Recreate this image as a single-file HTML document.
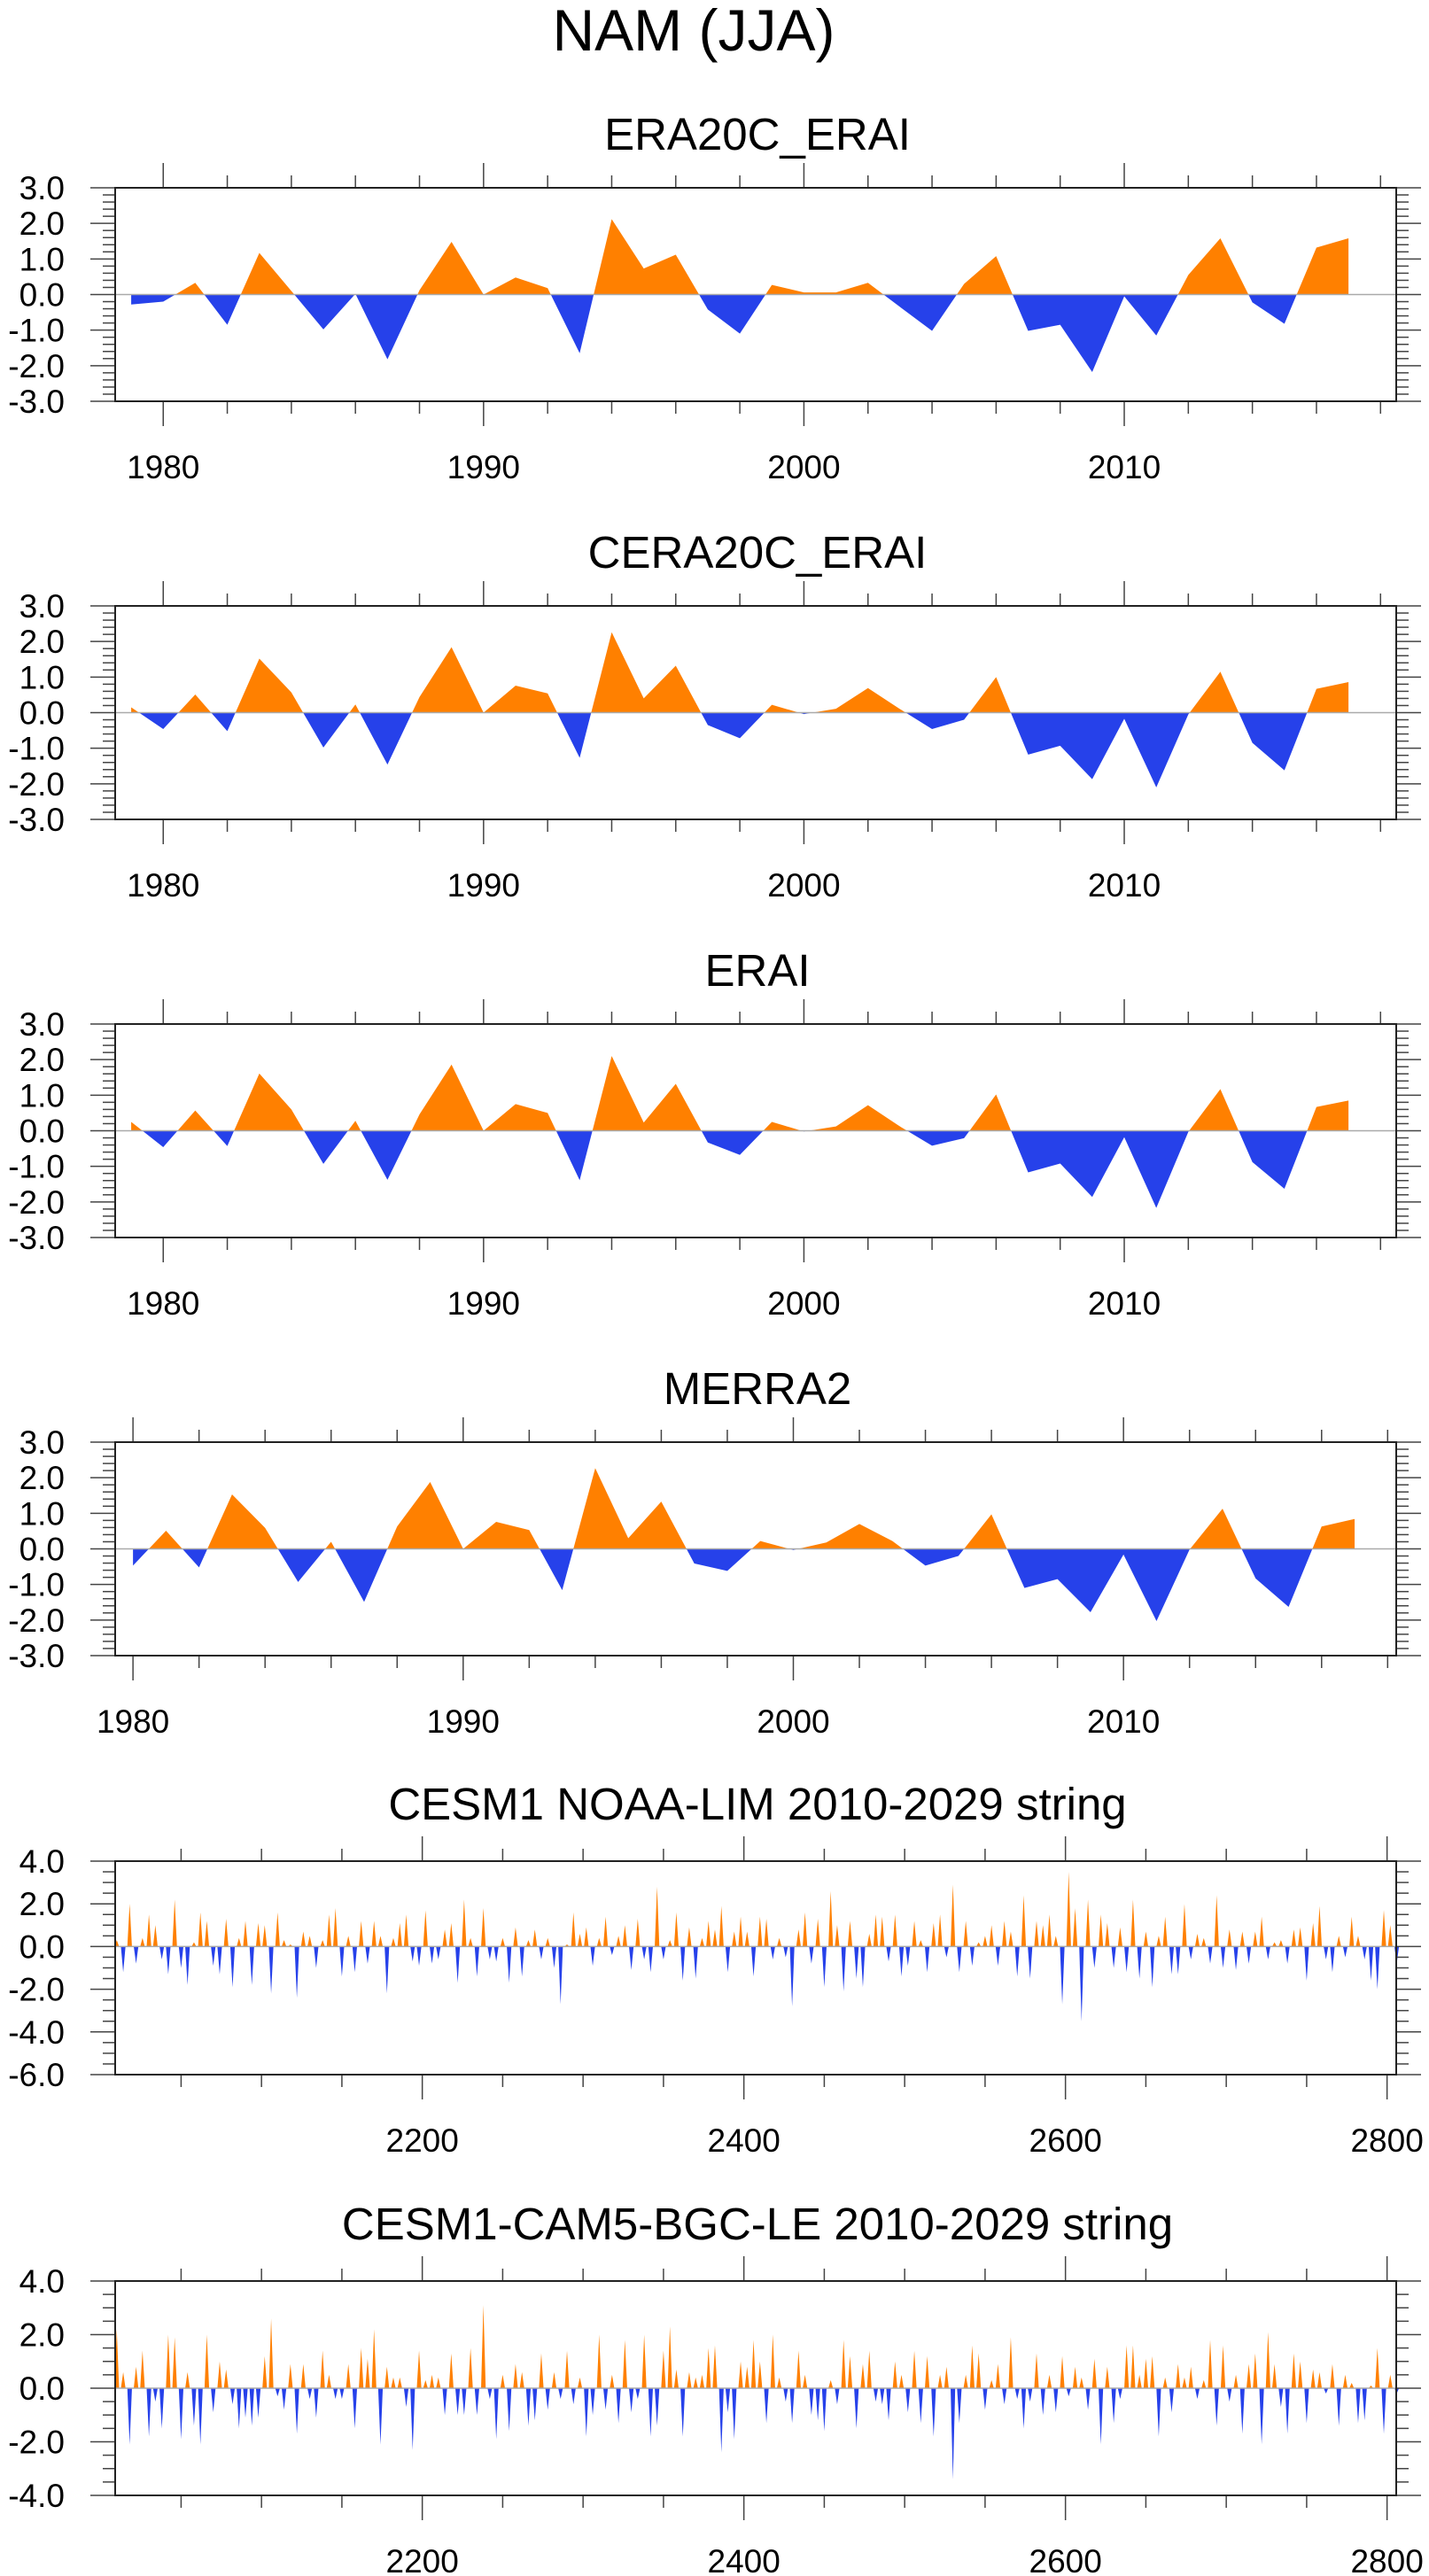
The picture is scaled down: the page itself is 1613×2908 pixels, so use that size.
<!DOCTYPE html>
<html><head><meta charset="utf-8"><title>NAM (JJA)</title>
<style>
html,body{margin:0;padding:0;background:#fff;}
svg{display:block;font-family:"Liberation Sans",Arial,sans-serif;}
</style></head>
<body>
<svg id="fig" width="1613" height="2908" viewBox="0 0 1613 2908" xmlns="http://www.w3.org/2000/svg">
<text x="783" y="57" font-size="66" text-anchor="middle">NAM (JJA)</text>
</svg>
<script>
// ---------- annual series (reanalyses) ----------
const yearsA = [1979,1980,1981,1982,1983,1984,1985,1986,1987,1988,1989,1990,1991,1992,1993,1994,1995,1996,1997,1998,1999,2000,2001,2002,2003,2004,2005,2006,2007,2008,2009,2010,2011,2012,2013,2014,2015,2016,2017];
const era20cErai = [-0.28,-0.2,0.33,-0.85,1.17,0.1,-0.98,0.02,-1.82,0.12,1.48,0.0,0.48,0.18,-1.65,2.12,0.73,1.12,-0.42,-1.1,0.27,0.06,0.06,0.33,-0.35,-1.02,0.3,1.08,-1.02,-0.85,-2.18,-0.05,-1.15,0.55,1.58,-0.22,-0.82,1.32,1.58];
const cera20cErai = [0.15,-0.46,0.51,-0.52,1.52,0.57,-0.98,0.23,-1.46,0.44,1.84,0.0,0.76,0.54,-1.27,2.26,0.4,1.32,-0.35,-0.72,0.22,-0.04,0.11,0.69,0.1,-0.46,-0.2,1.0,-1.18,-0.93,-1.87,-0.17,-2.1,-0.05,1.15,-0.85,-1.62,0.67,0.86];
const erai = [0.25,-0.46,0.57,-0.43,1.61,0.6,-0.93,0.28,-1.38,0.46,1.86,0.0,0.75,0.5,-1.39,2.1,0.23,1.32,-0.33,-0.68,0.25,-0.02,0.12,0.72,0.12,-0.42,-0.21,1.02,-1.17,-0.92,-1.86,-0.18,-2.17,-0.03,1.17,-0.88,-1.63,0.67,0.85];
const yearsM = [1980,1981,1982,1983,1984,1985,1986,1987,1988,1989,1990,1991,1992,1993,1994,1995,1996,1997,1998,1999,2000,2001,2002,2003,2004,2005,2006,2007,2008,2009,2010,2011,2012,2013,2014,2015,2016,2017];
const merra2 = [-0.47,0.51,-0.52,1.53,0.59,-0.93,0.2,-1.49,0.63,1.88,0.0,0.76,0.53,-1.16,2.27,0.3,1.33,-0.41,-0.62,0.22,-0.03,0.18,0.7,0.22,-0.47,-0.2,0.97,-1.1,-0.85,-1.78,-0.16,-2.03,-0.02,1.13,-0.83,-1.63,0.63,0.84];
const yTicksA = [-3,-2,-1,0,1,2,3];
const xLabelsA = [1980,1990,2000,2010];

// ---------- string series (every 4th sample, index 2010..2806) ----------
const limVals = [0.3,-1.2,2.0,-0.8,0.4,1.5,1.0,-0.6,-1.3,2.2,-1.0,-1.8,0.2,1.6,1.2,-0.9,-1.3,1.3,-1.9,0.4,1.2,-1.8,1.1,1.0,-2.2,1.6,0.3,0.1,-2.4,0.7,0.5,-1.0,0.3,1.5,1.8,-1.4,0.5,-1.2,1.2,-0.8,1.2,0.5,-2.2,0.4,1.1,1.5,-0.7,-0.9,1.7,-0.8,-0.6,0.8,1.1,-1.7,2.2,0.4,-1.4,1.8,-0.6,-0.7,0.4,-1.7,0.9,-1.4,0.3,0.8,-0.6,0.4,-1.0,-2.7,0.1,1.6,0.6,0.9,-0.9,0.4,1.4,-0.4,0.5,1.0,-1.1,1.3,-0.6,-1.2,2.8,-0.6,0.3,1.6,-1.6,0.9,-1.5,0.4,1.2,0.8,1.9,-1.2,0.7,1.4,0.7,-1.4,
1.4,1.3,-0.6,0.4,-0.5,-2.8,0.8,1.6,-0.8,1.3,-1.9,2.6,1.0,-2.1,1.2,-1.5,-1.9,0.6,1.5,1.4,-0.7,1.5,-1.4,-0.9,1.2,0.3,-1.2,1.1,1.5,-0.5,2.9,-1.2,1.2,-0.9,0.2,0.5,1.0,-0.9,1.2,0.7,-1.4,2.4,-1.5,1.2,1.0,1.5,0.5,-2.7,3.5,1.8,-3.5,2.2,-1.0,1.5,1.1,-1.0,0.9,-1.2,2.2,-1.5,0.7,-1.9,0.5,1.4,-1.3,-1.3,2.0,-0.6,0.6,0.4,-0.8,2.4,-1.0,0.8,-1.1,0.7,-0.8,0.7,1.4,-0.6,0.2,0.3,-0.8,0.8,0.9,-1.6,1.1,1.9,-0.6,-1.2,0.5,-0.5,1.4,0.5,-0.6,-1.6,-2.0,1.7,1.0,-0.8];
const leVals = [2.2,0.6,-2.1,0.8,1.4,-1.8,-0.5,-1.5,2.0,1.9,-1.9,0.6,-1.4,-2.1,2.0,-0.9,1.0,0.7,-0.6,-1.5,-1.1,-1.4,-1.1,1.2,2.6,-0.3,-0.8,0.9,-1.7,0.9,-0.4,-1.1,1.4,0.5,-0.4,-0.4,0.9,-1.5,1.5,1.1,2.2,-2.1,0.8,0.4,0.4,-0.7,-2.3,1.4,0.3,0.5,0.4,-1.0,1.3,-1.0,-1.0,1.5,-1.0,3.1,-0.4,-1.9,0.5,-1.6,0.9,0.6,-1.4,-1.2,1.3,-0.8,0.6,-0.4,1.4,-0.6,0.4,-1.8,-1.0,2.0,-0.8,0.5,-1.3,1.8,-0.9,-0.4,2.0,-1.8,-1.4,1.4,2.3,0.7,-1.8,0.6,0.4,0.5,1.5,1.6,-2.4,-0.9,-1.9,1.0,0.8,1.8,
1.0,-1.3,2.0,0.4,-0.5,-1.3,1.4,0.5,-1.0,-1.2,-1.6,0.3,-0.6,1.8,1.2,-1.5,0.9,1.4,-0.5,-0.6,-1.2,1.0,0.5,-0.9,1.4,-1.3,1.2,-1.8,0.5,0.8,-3.4,-1.3,0.5,1.6,1.3,-0.8,0.3,0.9,-0.6,1.9,-0.4,-1.5,-0.5,1.3,-1.0,0.5,-0.9,1.2,-0.3,0.8,0.4,-0.8,1.1,-2.1,0.8,-1.3,-0.4,1.6,1.6,0.5,1.1,1.2,-1.8,0.4,-0.9,0.9,0.4,0.8,-0.4,0.3,1.8,-1.4,1.6,-0.5,0.5,-1.7,0.9,1.3,-2.1,2.1,0.9,-0.7,-1.7,1.3,1.0,-1.3,0.7,0.6,-0.2,0.9,-1.4,0.5,0.2,-1.3,-1.2,0.1,1.5,-1.7,0.5,-0.2];
const stringStart = 2010;
const stringStep = 4;
const yTicksLim = [-6,-4,-2,0,2,4];
const yTicksLe = [-4,-2,0,2,4];
const xLabelsS = [2200,2400,2600,2800];

const NS = "http://www.w3.org/2000/svg";
const svg = document.getElementById("fig");
function mk(tag, attrs, parent){
  const e = document.createElementNS(NS, tag);
  for (const k in attrs) e.setAttribute(k, attrs[k]);
  (parent || svg).appendChild(e);
  return e;
}
const ORANGE = "#ff8000", BLUE = "#2641ea";
const L = 130, R = 1576;
let clipId = 0;

function panel(o){
  const g = mk("g", {});
  
  
  const T = o.top, B = o.bottom;
  const sx = v => L + (v - o.xmin) / (o.xmax - o.xmin) * (R - L);
  const sy = v => B - (v - o.ymin) / (o.ymax - o.ymin) * (B - T);
  const t = mk("text", {x: 855, y: o.titleY, "font-size": o.titleSize, "text-anchor": "middle"}, g);
  t.textContent = o.title;
  
  
  const y0 = sy(0);
  const id = clipId++;
  const defs = mk("defs", {}, g);
  const ca = mk("clipPath", {id: "ca" + id}, defs);
  mk("rect", {x: L, y: T, width: R - L, height: y0 - T}, ca);
  const cb = mk("clipPath", {id: "cb" + id}, defs);
  mk("rect", {x: L, y: y0, width: R - L, height: B - y0}, cb);
  if (o.spikes){
    for (let i = 0; i < o.xs.length; i++){
      const x = sx(o.xs[i]), y = sy(o.ys[i]);
      const w = 2.6;
      const s = mk("polygon", {points: (x-w).toFixed(2)+","+y0+" "+x.toFixed(2)+","+y.toFixed(2)+" "+(x+w).toFixed(2)+","+y0,
        fill: o.ys[i] >= 0 ? ORANGE : BLUE}, g);
      
      
    }
  } else {
    let pts = [];
    for (let i = 0; i < o.xs.length; i++) pts.push(sx(o.xs[i]).toFixed(2) + "," + sy(o.ys[i]).toFixed(2));
    const first = sx(o.xs[0]).toFixed(2), last = sx(o.xs[o.xs.length-1]).toFixed(2);
    const poly = first + "," + y0 + " " + pts.join(" ") + " " + last + "," + y0;
    const pa = mk("polygon", {points: poly, fill: ORANGE, "clip-path": "url(#ca" + id + ")"}, g);
    
    
    const pb = mk("polygon", {points: poly, fill: BLUE, "clip-path": "url(#cb" + id + ")"}, g);
    
    
  }
  const zl = mk("line", {x1: L, x2: R, y1: y0, y2: y0, stroke: "#aaa", "stroke-width": 1.5}, g);
  
  
  for (let v = o.ymin; v <= o.ymax + 1e-9; v += o.yMinor){
    const y = sy(v);
    const major = Math.abs(v / o.yMajor - Math.round(v / o.yMajor)) < 1e-6;
    const len = major ? 28 : 14;
    mk("line", {x1: L - len, x2: L, y1: y, y2: y, stroke: "#444", "stroke-width": 1.5}, g);
    mk("line", {x1: R, x2: R + len, y1: y, y2: y, stroke: "#444", "stroke-width": 1.5}, g);
  }
  for (const v of o.yTicks){
    const tl = mk("text", {x: 73, y: sy(v) + 13, "font-size": 37, "text-anchor": "end"}, g);
    tl.textContent = v.toFixed(1);
    
    
  }
  for (let v = o.xMinorStart; v <= o.xmax + 1e-9; v += o.xMinor){
    const x = sx(v);
    const major = (v - o.xMajorBase) % o.xMajor === 0;
    const len = major ? 28 : 14;
    mk("line", {x1: x, x2: x, y1: T - len, y2: T, stroke: "#444", "stroke-width": 1.5}, g);
    mk("line", {x1: x, x2: x, y1: B, y2: B + len, stroke: "#444", "stroke-width": 1.5}, g);
  }
  for (const v of o.xLabels){
    const xl = mk("text", {x: sx(v), y: B + 87, "font-size": 37, "text-anchor": "middle"}, g);
    xl.textContent = String(v);
    
    
  }
  const fr = mk("rect", {x: L, y: T, width: R - L, height: B - T, fill: "none", stroke: "#222", "stroke-width": 2}, g);
  
  
}

const annualBase = {ymin:-3, ymax:3, yMajor:1, yMinor:0.2, yTicks:yTicksA, xLabels:xLabelsA, xMinor:2, xMinorStart:1980, xMajor:10, xMajorBase:1980, titleSize:51};
panel(Object.assign({}, annualBase, {name:"panel-era20c-erai", title:"ERA20C_ERAI", top:212, bottom:453, titleY:169, xmin:1978.5, xmax:2018.49, xs:yearsA, ys:era20cErai}));
panel(Object.assign({}, annualBase, {name:"panel-cera20c-erai", title:"CERA20C_ERAI", top:684, bottom:925, titleY:641, xmin:1978.5, xmax:2018.49, xs:yearsA, ys:cera20cErai}));
panel(Object.assign({}, annualBase, {name:"panel-erai", title:"ERAI", top:1156, bottom:1397, titleY:1113, xmin:1978.5, xmax:2018.49, xs:yearsA, ys:erai}));
panel(Object.assign({}, annualBase, {name:"panel-merra2", title:"MERRA2", top:1628, bottom:1869, titleY:1585, xmin:1979.46, xmax:2018.26, xs:yearsM, ys:merra2}));

const idxLim = limVals.map((v, i) => stringStart + stringStep * i);
const idxLe = leVals.map((v, i) => stringStart + stringStep * i);
const strBase = {yMajor:2, yMinor:0.5, xLabels:xLabelsS, xMinor:50, xMinorStart:2050, xMajor:200, xMajorBase:2200, titleSize:51, xmin:2009, xmax:2805.7, spikes:true};
panel(Object.assign({}, strBase, {name:"panel-cesm1-noaa-lim", title:"CESM1 NOAA-LIM 2010-2029 string", top:2101, bottom:2342, titleY:2054, ymin:-6, ymax:4, yTicks:yTicksLim, xs:idxLim, ys:limVals}));
panel(Object.assign({}, strBase, {name:"panel-cesm1-cam5-bgc-le", title:"CESM1-CAM5-BGC-LE 2010-2029 string", top:2575, bottom:2817, titleY:2528, ymin:-4, ymax:4, yTicks:yTicksLe, xs:idxLe, ys:leVals}));
</script>
</body></html>
